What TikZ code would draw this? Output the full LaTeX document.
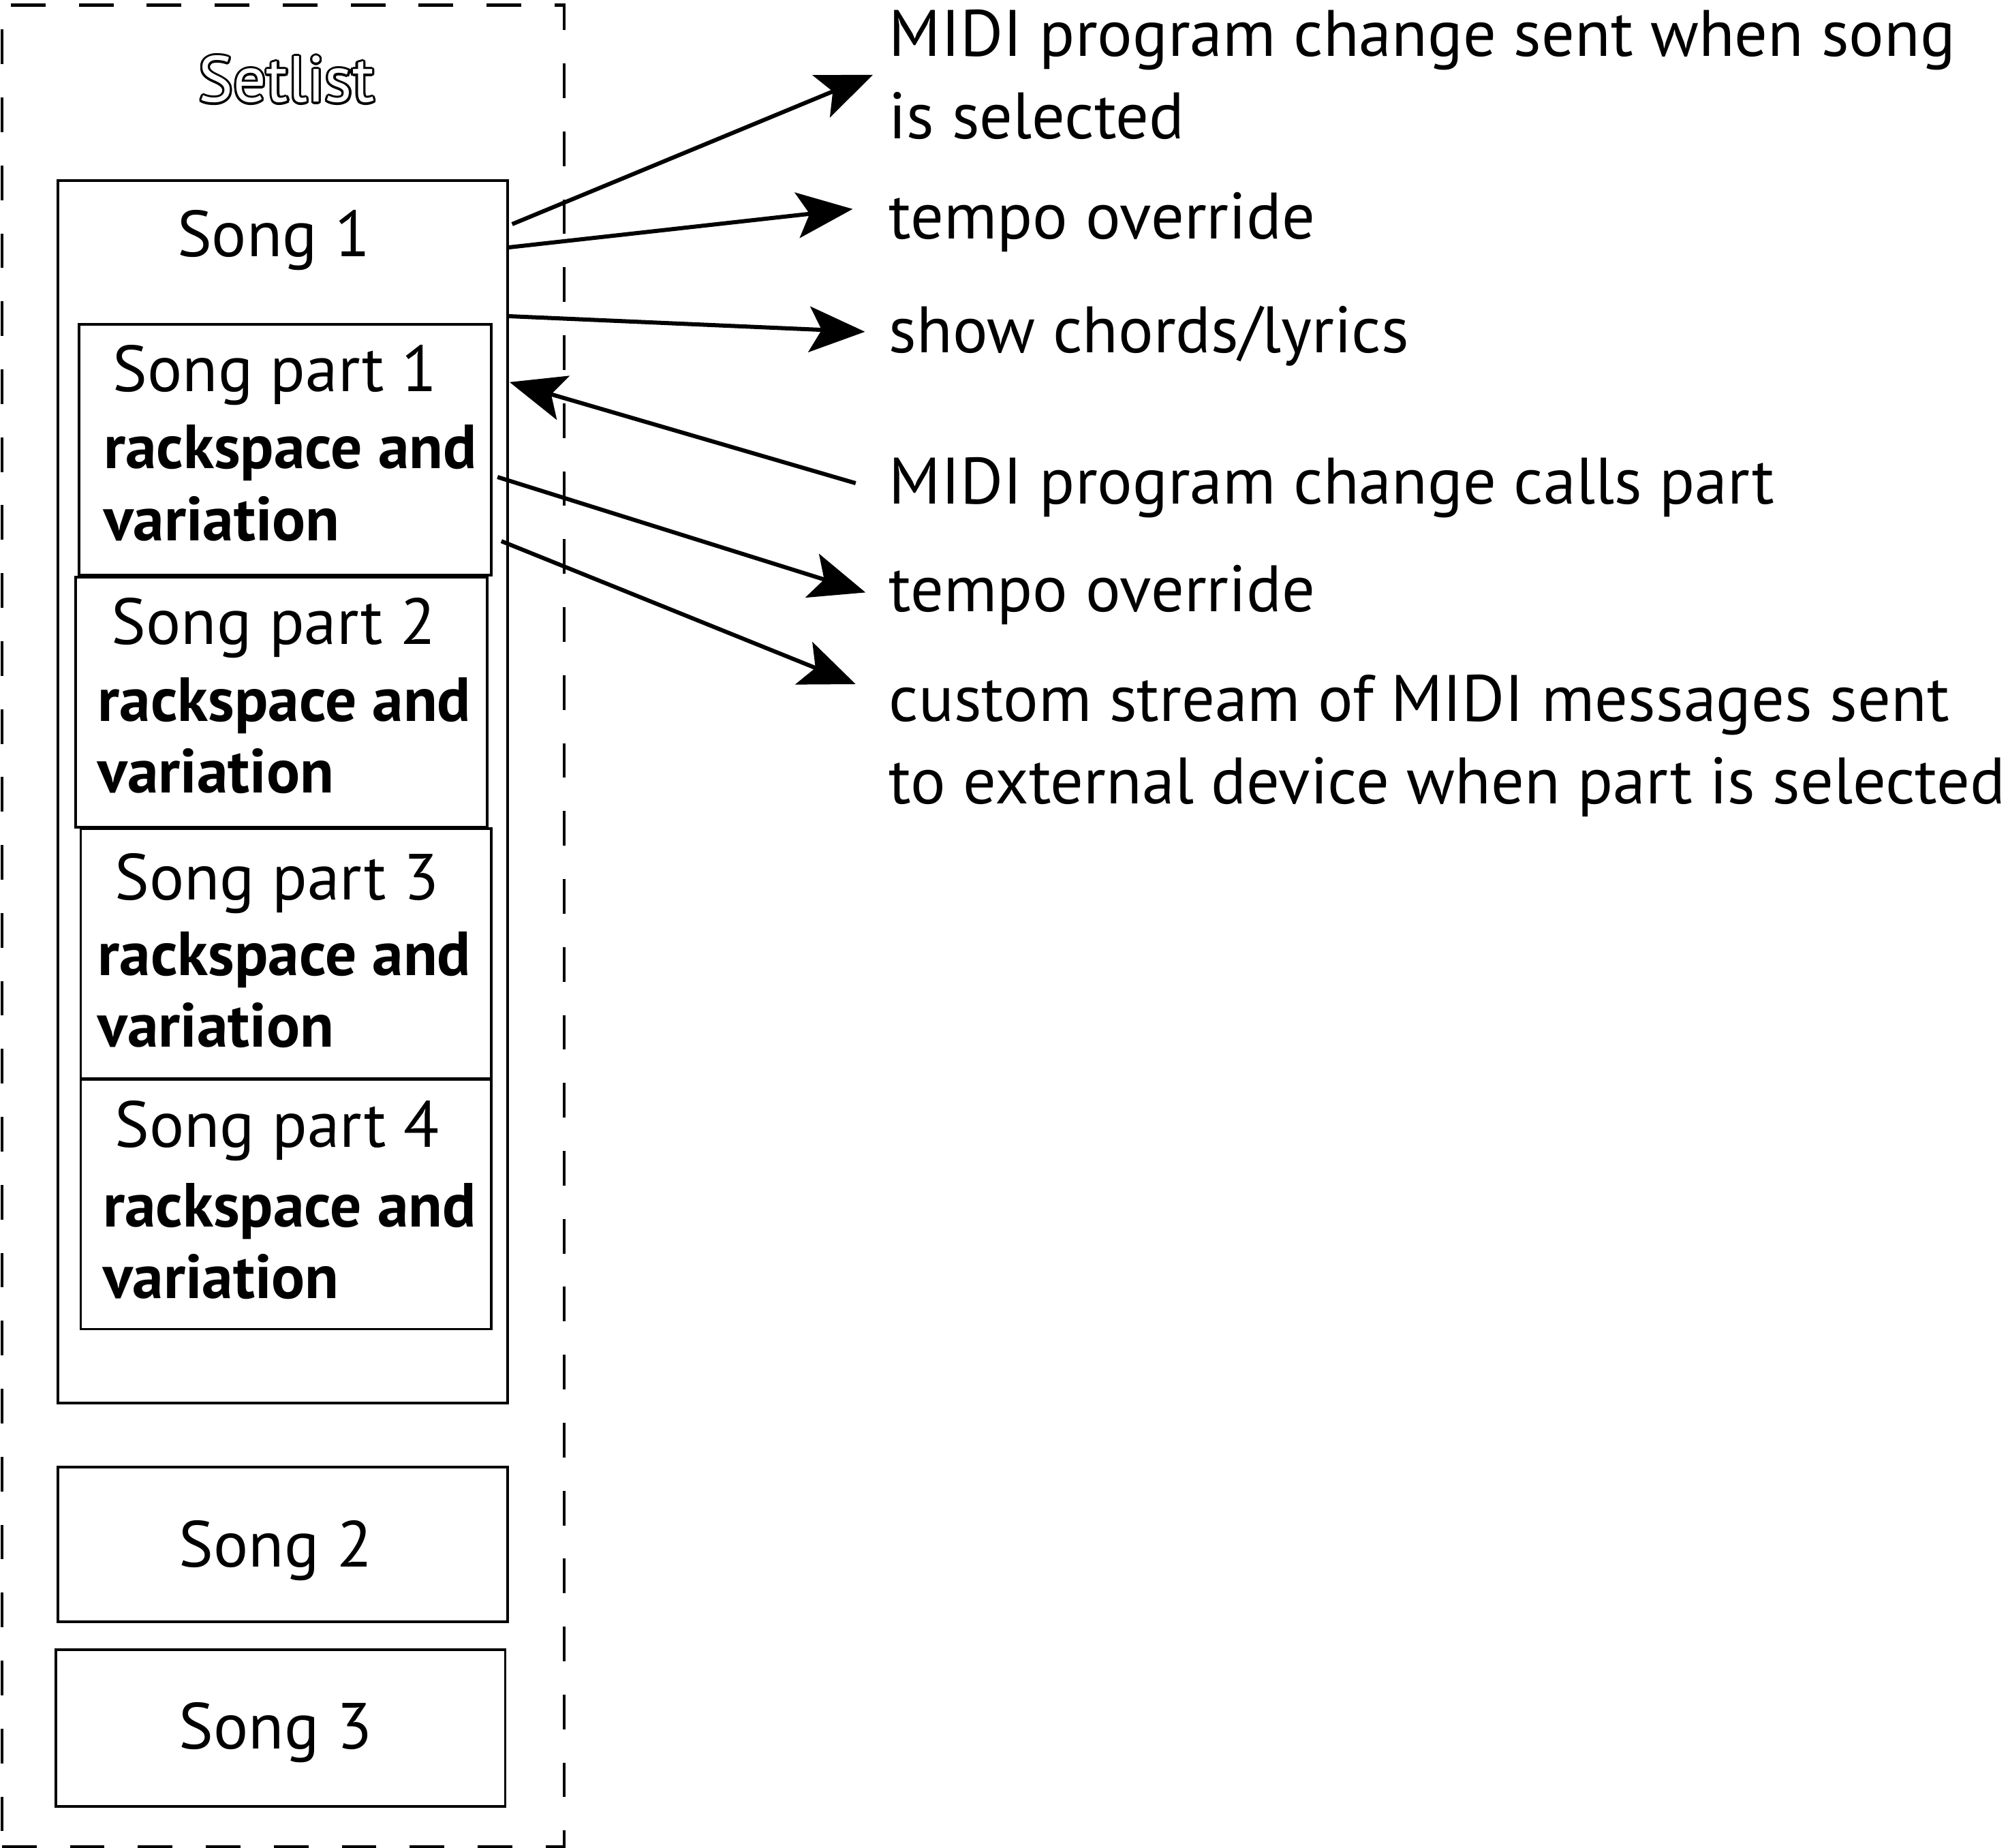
\documentclass[tikz,border=0pt]{standalone}
\usepackage{fontspec}
\setmainfont{PT Sans}
\usetikzlibrary{arrows.meta,fit}
\begin{document}
\begin{tikzpicture}[x=0.5pt,y=-0.5pt,
  box/.style={draw,line width=1pt,inner sep=0pt},
  reg/.style={inner sep=0pt,font=\fontsize{25.4pt}{32.15pt}\selectfont},
  bld/.style={inner sep=0pt,align=left,font=\fontsize{24.3pt}{28pt}\selectfont\bfseries},
  lbl/.style={inner sep=0pt,align=left,anchor=base west,font=\fontsize{25.6pt}{32.15pt}\selectfont},
  arr/.style={line width=1.6pt,-{Stealth[length=21.75pt,width=17.8pt,inset=4.85pt]}},
]
\useasboundingbox (0,0) rectangle (1566,1441);

% outer dashed setlist frame
\node[draw,line width=1.1pt,dash pattern=on 13.5pt off 13pt,inner sep=0pt,fit={(1.5,4)(440,1440)}] (setlist) {};
% outlined title
\foreach \a in {0,22.5,...,337.5}
  \node[reg,anchor=base,text=black] at ([shift={(\a:1.7)}]223.5,79.7) {Setlist};
\node[reg,anchor=base,text=white] (title) at (223.5,79.7) {Setlist};

% song 1 with parts
\node[box,fit={(45,141)(396,1094)}] (song1) {};
\node[reg,anchor=base] (song1t) at (213.5,200) {Song 1};

\node[box,fit={(61.5,253)(383,448.5)}] (p1) {};
\node[reg,anchor=base] (p1t) at (214.5,305.5) {Song part 1};
\node[bld,anchor=base west] (p1b) at (80.5,421.5) {rackspace and\\variation};

\node[box,fit={(59,450)(380,645)}] (p2) {};
\node[reg,anchor=base] (p2t) at (213.5,502.5) {Song part 2};
\node[bld,anchor=base west] (p2b) at (76,618.5) {rackspace and\\variation};

\node[box,fit={(63,646)(383,841)}] (p3) {};
\node[reg,anchor=base] (p3t) at (216,701.5) {Song part 3};
\node[bld,anchor=base west] (p3b) at (76,816.5) {rackspace and\\variation};

\node[box,fit={(63,842)(383,1036.5)}] (p4) {};
\node[reg,anchor=base] (p4t) at (216,894.5) {Song part 4};
\node[bld,anchor=base west] (p4b) at (80,1012.5) {rackspace and\\variation};

% songs 2 and 3
\node[box,fit={(45,1144)(396,1264.5)}] (song2) {};
\node[reg,anchor=base] (song2t) at (215,1222) {Song 2};
\node[box,fit={(43.5,1286.5)(394,1408.5)}] (song3) {};
\node[reg,anchor=base] (song3t) at (215,1364) {Song 3};

% right-hand labels (anchored at the baseline of the last line)
\node[lbl] (t1) at (693,108) {MIDI program change sent when song\\is selected};
\node[lbl] (t2) at (693,186) {tempo override};
\node[lbl] (t3) at (693,275) {show chords/lyrics};
\node[lbl] (t4) at (693,393) {MIDI program change calls part};
\node[lbl] (t5) at (693,477) {tempo override};
\node[lbl] (t6) at (693,626.6) {custom stream of MIDI messages sent\\to external device when part is selected};

% arrow end points
\coordinate (a1s) at (399.4,174.8); \coordinate (a1e) at (680.7,58.4);
\coordinate (a2s) at (396,193);     \coordinate (a2e) at (665,163);
\coordinate (a3s) at (395.4,246.5); \coordinate (a3e) at (674.6,258.7);
\coordinate (a4s) at (667.3,376.8); \coordinate (a4e) at (397.4,298);
\coordinate (a5s) at (388,372);     \coordinate (a5e) at (675,462);
\coordinate (a6s) at (391,422);     \coordinate (a6e) at (667.3,533.5);

\draw[arr] (a1s) -- (a1e);
\draw[arr] (a2s) -- (a2e);
\draw[arr] (a3s) -- (a3e);
\draw[arr] (a4s) -- (a4e);
\draw[arr] (a5s) -- (a5e);
\draw[arr] (a6s) -- (a6e);
\end{tikzpicture}
\end{document}
